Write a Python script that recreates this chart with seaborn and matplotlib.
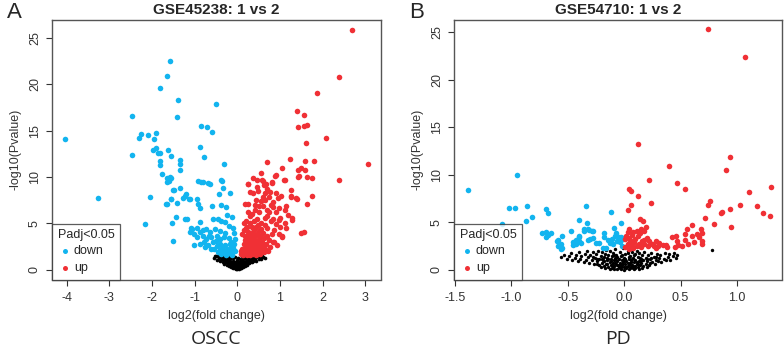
import numpy as np
import pandas as pd
import matplotlib
matplotlib.use("Agg")
import matplotlib.pyplot as plt
import seaborn as sns

# ---------------- dados (log2FC, -log10 P) ----------------
down_a = [(-4.03,14.16),(-3.26,7.72),(-2.46,16.6),(-2.47,12.36),(-2.31,14.2),(-2.25,14.7),(-2.16,4.92),(-2.09,14.5),(-2.05,7.83),
          (-1.98,12.97),(-1.95,14.08),(-1.91,14.8),(-1.91,13.15),(-1.86,12.65),(-1.82,12.65),(-1.82,19.58),(-1.82,11.75),(-1.80,11.35),(-1.77,10.3),
          (-1.67,7.08),(-1.65,9.88),(-1.64,20.95),(-1.64,9.5),(-1.64,7.1),(-1.62,12.9),(-1.60,9.56),(-1.57,22.56),(-1.57,10.02),(-1.56,7.62),
          (-1.55,9.9),(-1.55,7.6),(-1.54,12.25),(-1.52,5.07),(-1.51,8.62),(-1.50,3.13),(-1.49,8.6),(-1.44,5.71),
          (-1.41,16.45),(-1.40,7.2),(-1.39,18.32),(-1.35,11.8),(-1.35,8.87),(-1.33,11.4),(-1.33,10.74),(-1.27,7.72),(-1.22,7.98),(-1.22,5.46),
          (-1.19,8.15),(-1.17,5.53),(-1.14,7.6),(-1.10,7.6),(-1.11,4.10),(-1.09,4.56),(-1.05,4.38),(-1.01,3.84),(-1.01,2.73),
          (-0.95,7.69),(-0.95,4.56),(-0.95,3.49),(-0.92,9.59),(-0.91,7.08),(-0.88,13.2),(-0.88,5.21),(-0.88,4.13),(-0.88,2.84),(-0.87,6.72),
          (-0.85,15.5),(-0.84,9.45),(-0.81,4.28),(-0.81,3.66),(-0.80,9.52),(-0.78,12.2),(-0.78,2.95),(-0.75,2.5),(-0.72,4.38),(-0.72,3.31),
          (-0.71,15.4),(-0.68,9.34),(-0.68,2.66),(-0.65,3.7),(-0.64,4.13),(-0.63,9.23),(-0.62,2.3),(-0.61,3.49),(-0.60,14.87),(-0.59,6.9),
          (-0.57,5.46),(-0.57,2.95),(-0.54,2.23),(-0.52,4.38),(-0.50,3.1),(-0.49,17.86),(-0.48,3.66),(-0.48,2.59),(-0.45,1.9),(-0.44,5.5),
          (-0.43,8.15),(-0.41,4.20),(-0.41,3.31),(-0.41,2.12),(-0.40,2.77),(-0.39,5.25),(-0.37,9.66),(-0.37,7.0),(-0.37,1.69),(-0.35,9.6),
          (-0.35,2.4),(-0.34,8.8),(-0.32,3.49),(-0.31,11.36),(-0.30,2.05),(-0.29,4.02),(-0.28,2.66),(-0.28,5.2),(-0.26,6.83),(-0.26,1.62),
          (-0.25,2.3),(-0.23,5.96),(-0.22,1.9),(-0.20,3.41),(-0.20,4.7),(-0.18,8.26),(-0.18,2.84),(-0.18,2.12),(-0.15,2.6),(-0.15,3.0),
          (-0.14,1.76),(-0.13,5.75),(-0.12,1.55),(-0.10,2.41),(-0.10,4.5),(-0.08,3.92),(-0.08,2.8),(-0.06,2.05),(-0.05,3.3)]

up_a = [(3.06,11.42),(2.70,25.86),(2.38,20.8),(2.38,9.70),(2.09,14.2),(1.86,19.04),(1.80,11.79),(1.76,9.95),(1.76,7.98),(1.64,10.0),
        (1.64,7.08),(1.62,13.7),(1.59,11.79),(1.59,10.74),(1.57,16.67),(1.57,15.5),(1.57,4.1),(1.64,15.67),(1.50,3.92),(1.49,10.96),
        (1.45,10.1),(1.43,10.02),(1.42,15.45),(1.42,10.8),(1.40,17.13),(1.40,7.62),(1.38,7.7),(1.28,5.39),(1.28,5.6),(1.27,7.90),
        (1.26,7.94),(1.23,11.93),(1.18,5.93),(1.14,4.5),(1.12,9.67),(1.12,6.5),(1.12,5.1),(1.10,9.66),(1.06,11.03),(1.06,3.6),
        (1.06,3.49),(1.01,4.65),(0.97,6.7),(0.97,5.35),(0.97,3.9),(0.95,7.7),(0.94,2.66),(0.91,10.2),(0.91,6.25),(0.90,8.3),
        (0.89,10.13),(0.87,4.3),(0.83,2.95),(0.81,9.48),(0.81,9.41),(0.80,7.0),(0.79,5.3),(0.75,7.9),(0.71,4.5),(0.69,11.6),
        (0.69,6.5),(0.67,9.23),(0.64,8.3),(0.64,5.6),(0.63,9.1),(0.61,6.85),(0.60,9.59),(0.60,7.87),(0.60,4.0),(0.58,9.74),
        (0.52,6.25),(0.49,8.45),(0.48,4.85),(0.47,5.5),(0.46,8.94),(0.42,7.0),(0.41,6.5),(0.36,9.95),(0.36,4.5),(0.30,8.4),
        (0.30,5.8),(0.26,9.31),(0.25,9.23),(0.25,7.15),(0.22,4.65),(0.21,4.56),(0.19,7.08),(0.17,5.10),
        (0.08,2.0),(0.10,1.7),(0.12,2.3),(0.14,1.6),(0.15,2.8),(0.17,2.1),(0.18,3.2),(0.20,1.8),(0.20,2.5),(0.22,3.6),
        (0.23,1.6),(0.24,2.2),(0.25,2.9),(0.26,4.1),(0.27,1.9),(0.28,2.6),(0.29,3.3),(0.30,1.6),(0.31,2.2),(0.32,3.0),
        (0.33,3.8),(0.34,2.0),(0.35,2.7),(0.36,1.7),(0.37,3.4),(0.38,2.3),(0.39,4.3),(0.40,1.9),(0.40,2.9),(0.41,3.6),
        (0.42,2.4),(0.43,1.6),(0.44,3.1),(0.45,2.1),(0.46,2.7),(0.47,3.9),(0.48,1.8),(0.49,2.4),(0.50,3.3),(0.51,2.0),
        (0.52,2.9),(0.53,1.7),(0.54,3.6),(0.55,2.5),(0.56,4.4),(0.57,2.1),(0.58,3.0),(0.60,2.6),(0.62,1.9),(0.63,3.4),
        (0.65,2.3),(0.68,2.8),(0.70,3.7),(0.72,2.0),(0.74,3.2),(0.78,2.5),(0.82,3.9),(0.86,3.0),
        (0.12,3.9),(0.15,4.3),(0.18,3.6),(0.22,3.0),(0.26,3.4),(0.30,4.0),(0.34,4.6),(0.38,3.9),(0.44,4.6),(0.50,4.2),
        (0.30,5.1),(0.40,5.3),(0.55,5.0),(0.65,4.8),(0.70,5.8),(0.85,5.5),(0.90,4.9),(0.75,6.2),(0.50,6.9),(0.35,6.0),
        (0.45,7.5),(0.55,7.4),(0.65,7.5),(0.85,6.8),(1.00,5.6),(0.36,8.3),(0.70,8.7),(0.78,8.4),(0.55,10.4),(0.47,9.7),
        (0.85,7.3),(1.02,8.0),(1.15,6.9),(1.25,8.6),(0.25,6.2),(0.20,5.3)]

ns_a = [(-0.55,1.3),(-0.5,1.45),(-0.47,1.1),(-0.45,1.5),(-0.42,1.25),(-0.4,0.95),(-0.38,1.4),(-0.36,1.15),(-0.34,0.8),(-0.33,1.35),
        (-0.31,1.0),(-0.3,0.6),(-0.28,1.2),(-0.27,0.85),(-0.26,1.45),(-0.25,0.5),(-0.24,1.05),(-0.22,0.7),(-0.21,1.3),(-0.2,0.4),
        (-0.19,0.9),(-0.18,1.5),(-0.17,0.6),(-0.16,1.15),(-0.15,0.3),(-0.14,0.8),(-0.13,1.35),(-0.12,0.5),(-0.11,1.0),(-0.1,0.2),
        (-0.1,0.7),(-0.09,1.25),(-0.08,0.4),(-0.07,0.9),(-0.06,0.15),(-0.06,0.6),(-0.05,1.4),(-0.04,0.3),(-0.03,0.8),(-0.02,0.1),
        (-0.02,0.5),(-0.01,1.1),(0.0,0.05),(0.0,0.35),(0.01,0.7),(0.02,0.2),(0.02,1.3),(0.03,0.5),(0.04,0.9),(0.05,0.1),
        (0.05,0.4),(0.06,1.2),(0.07,0.65),(0.08,0.25),(0.09,1.0),(0.1,0.45),(0.11,1.45),(0.12,0.8),(0.13,0.3),(0.14,1.15),
        (0.15,0.6),(0.16,1.4),(0.17,0.9),(0.18,0.4),(0.19,1.25),(0.2,0.7),(0.21,1.5),(0.22,1.0),(0.23,0.55),(0.25,1.3),
        (0.26,0.85),(0.27,1.45),(0.28,0.7),(0.3,1.15),(0.31,0.9),(0.32,1.4),(0.34,1.05),(0.35,0.8),(0.36,1.3),(0.38,1.0),
        (0.39,1.5),(0.41,1.2),(0.43,1.35),(0.45,1.0),(0.47,1.45),(0.5,1.2),(0.53,1.4),(0.56,1.15),(0.6,1.35),(0.65,1.25),
        (-0.08,0.55),(-0.04,0.65),(0.0,0.45),(0.03,0.3),(0.06,0.55),(-0.12,0.3),(0.1,0.2),(-0.05,0.25),(0.08,0.75),(-0.15,0.55),
        (0.13,0.55),(-0.01,0.2),(0.04,0.15),(-0.03,0.4),(0.12,0.95),(-0.18,0.75),(0.16,0.8),(-0.22,1.0),(0.2,1.0),(-0.26,0.95),
        (0.24,1.1),(0.28,1.0),(0.33,1.2),(-0.3,1.3),(-0.35,1.45),(0.37,1.4),(-0.43,1.4),(0.44,1.5),(0.58,1.5),(-0.52,1.5)]

down_b = [(-1.39,8.42),(-0.95,10.0),(-1.02,6.49),(-0.97,6.56),(-0.86,6.74),(-0.82,5.6),(-0.87,5.15),(-1.08,4.83),(-0.69,6.38),(-0.68,6.03),
          (-0.34,6.77),(-0.73,3.85),(-0.69,4.0),(-0.68,3.67),(-0.65,3.85),(-0.69,3.42),(-0.59,3.2),(-0.55,3.6),(-0.55,2.29),(-0.47,4.09),
          (-0.40,5.25),(-0.33,4.97),(-0.36,4.3),(-0.31,4.2),(-0.28,4.05),(-0.43,3.2),(-0.40,3.5),(-0.40,3.1),(-0.45,2.66),(-0.38,2.8),
          (-0.30,3.3),(-0.22,2.79),(-0.18,3.91),(-0.18,3.42),(-0.12,6.1),(-0.09,4.38),(-0.07,3.85),(-0.05,3.5),(-0.14,3.17),
          (-0.60,3.07),(-0.56,2.7),(-0.59,2.55),(-0.56,2.2),(-0.45,2.9),(-0.43,2.7),(-0.41,3.07),(-0.40,3.6),(-0.36,4.12),(-0.32,4.3),
          (-0.29,4.12),(-0.32,3.2),(-0.28,3.4),(-0.25,2.8),(-0.19,2.3),(-0.16,2.3),(-0.13,2.8),(-0.08,3.6),(-0.03,4.9),(-0.03,3.5),
          (-0.01,3.3),(-0.02,2.55),(-0.10,2.7),(-0.06,3.1),(-0.04,2.9),(-0.11,3.3)]

up_b = [(0.74,25.37),(1.07,22.45),(0.12,13.29),(0.40,10.96),(0.94,11.84),(0.90,10.54),(0.22,9.48),(0.47,9.2),(0.54,8.57),(0.04,8.55),
        (0.06,8.3),(0.12,7.8),(0.24,7.0),(0.06,6.8),(0.035,6.3),(1.30,8.7),(1.11,8.25),(1.18,6.73),(1.23,6.03),(1.29,5.68),
        (1.03,6.84),(0.94,6.42),(0.95,4.55),(0.86,5.96),(0.87,6.1),(0.76,7.3),(0.74,6.8),(0.72,5.43),(0.80,4.83),(0.60,4.72),
        (0.56,4.3),(0.68,4.27),(0.69,3.9),(0.54,3.8),(0.60,3.6),(0.65,3.8),(0.66,3.5),(0.69,3.0),(0.69,2.75),(0.62,2.94),
        (0.57,2.7),(0.54,3.2),(0.46,3.6),(0.48,2.6),(0.45,2.4),(0.42,3.5),(0.37,2.6),(0.38,2.4),(0.31,2.8),(0.28,3.0),
        (0.30,2.5),(0.25,2.7),(0.22,3.0),(0.18,2.7),(0.18,3.2),(0.16,3.0),(0.14,5.35),(0.17,5.17),(0.19,4.5),(0.15,4.3),
        (0.11,4.14),(0.18,4.14),(0.04,4.3),(0.03,3.95),(0.07,3.7),(0.12,3.6),(0.04,3.4),(0.01,3.25),(0.06,3.1),(0.09,2.9),
        (0.13,2.75),(0.03,2.75),(0.01,2.4),(0.07,2.55),(0.11,2.55),(0.15,2.45),(0.04,2.2),(0.08,2.3),(0.21,2.5),(0.26,2.55),
        (0.28,2.3),(0.34,2.58),(0.51,2.5),(0.47,3.0),(0.02,3.6),(0.05,2.9),(0.10,3.3),(0.14,3.9),(0.20,3.4),(0.08,4.0)]

ns_b = [(-0.56,1.35),(-0.53,1.6),(-0.51,1.2),(-0.49,1.45),(-0.47,1.75),(-0.46,1.05),(-0.44,1.3),(-0.43,1.6),(-0.41,0.95),(-0.40,1.85),
        (-0.39,1.2),(-0.38,1.5),(-0.36,0.85),(-0.35,1.7),(-0.34,1.1),(-0.33,2.0),(-0.32,1.35),(-0.31,0.75),(-0.30,1.6),(-0.29,1.0),
        (-0.28,1.9),(-0.27,0.6),(-0.26,1.3),(-0.25,1.65),(-0.24,0.9),(-0.23,2.05),(-0.22,0.5),(-0.22,1.2),(-0.21,1.5),(-0.20,0.75),
        (-0.20,1.85),(-0.19,1.05),(-0.18,0.4),(-0.18,1.4),(-0.17,1.7),(-0.16,0.65),(-0.16,2.1),(-0.15,1.0),(-0.15,1.3),(-0.14,0.3),
        (-0.14,1.6),(-0.13,0.85),(-0.13,1.95),(-0.12,0.5),(-0.12,1.15),(-0.11,1.45),(-0.11,0.2),(-0.10,0.7),(-0.10,1.8),(-0.09,1.0),
        (-0.09,0.4),(-0.08,1.3),(-0.08,2.2),(-0.07,0.6),(-0.07,1.6),(-0.06,0.15),(-0.06,0.9),(-0.05,1.2),(-0.05,0.35),(-0.04,1.9),
        (-0.04,0.7),(-0.03,1.45),(-0.03,0.1),(-0.02,0.5),(-0.02,1.05),(-0.01,2.3),(-0.01,0.8),(0.0,0.05),(0.0,0.3),(0.0,1.3),
        (0.01,0.6),(0.01,1.7),(0.02,0.2),(0.02,0.95),(0.03,0.45),(0.03,2.0),(0.04,1.2),(0.04,0.1),(0.05,0.7),(0.05,1.5),
        (0.06,0.3),(0.06,1.0),(0.07,1.85),(0.07,0.55),(0.08,1.3),(0.08,0.2),(0.09,0.85),(0.09,1.6),(0.10,0.4),(0.10,1.1),
        (0.11,2.05),(0.11,0.65),(0.12,1.4),(0.12,0.3),(0.13,0.9),(0.13,1.75),(0.14,0.5),(0.15,1.2),(0.15,0.75),(0.16,1.55),
        (0.17,0.4),(0.17,1.0),(0.18,1.9),(0.19,0.65),(0.19,1.3),(0.20,0.9),(0.21,1.6),(0.22,0.55),(0.23,1.15),(0.24,1.8),
        (0.25,0.8),(0.26,1.4),(0.27,0.65),(0.28,1.05),(0.29,1.7),(0.30,0.9),(0.31,1.3),(0.32,1.55),(0.33,0.85),(0.35,1.2),
        (0.36,1.75),(0.37,1.0),(0.39,1.4),(0.40,1.65),(0.41,1.1),(0.43,1.45),(0.44,1.8),(0.46,1.3),(0.47,1.6),(0.78,2.1),
        (-0.06,0.5),(-0.03,0.3),(0.02,0.35),(0.04,0.55),(-0.08,0.75),(0.06,0.8),(-0.02,0.65),(0.0,0.9),(0.03,0.75),(-0.05,0.55),
        (0.08,0.45),(-0.1,0.3),(0.1,0.25),(-0.04,0.2),(0.05,0.2),(-0.12,0.95),(0.12,0.6),(-0.15,0.6),(0.14,0.9),(-0.18,0.9),
        (0.16,1.1),(-0.2,1.2),(0.2,1.2),(-0.24,1.2),(0.24,1.3),(-0.28,1.4),(0.28,1.4),(-0.01,1.0),(0.01,1.15),(-0.07,1.1),(0.07,1.15),
        (-0.13,0.15),(-0.09,0.1),(0.09,0.1),(0.13,0.15),(-0.17,0.25),(0.16,0.25),(-0.21,0.35),(0.2,0.35),(-0.24,0.6),(0.23,0.7),
        (-0.11,0.55),(0.11,0.85),(-0.06,1.35),(0.04,1.4),(-0.14,1.15),(0.14,1.3),(-0.02,1.6),(0.03,1.8),(-0.09,1.55),(0.1,1.7)]

titulos = ["GSE45238: 1 vs 2", "GSE54710: 1 vs 2"]
letras = ["A", "B"]
tecidos = ["OSCC", "PD"]
xticks_a = [-4, -3, -2, -1, 0, 1, 2, 3]
xticks_b = [-1.5, -1.0, -0.5, 0.0, 0.5, 1.0]
yticks = [0, 5, 10, 15, 20, 25]

AZUL = "#12b4ef"
VERMELHO = "#f03035"

sns.set_style("ticks")
plt.rcParams['font.family'] = ['Liberation Sans', 'DejaVu Sans']

def para_df(pares):
    return pd.DataFrame(pares, columns=["lfc", "p"])

fig = plt.figure(figsize=(7.84, 3.48), dpi=100)
W, H = 784, 348
caixas = [(52, 381), (454, 782)]
ax_a = fig.add_axes([52 / W, 1 - 279.5 / H, (381 - 52) / W, (279.5 - 20) / H])
ax_b = fig.add_axes([454 / W, 1 - 279.5 / H, (782 - 454) / W, (279.5 - 20) / H])

painel = [
    (ax_a, down_a, up_a, ns_a, xticks_a, (-4.34, 3.37), (-1.04, 26.94), 7, "{:.0f}"),
    (ax_b, down_b, up_b, ns_b, xticks_b, (-1.51, 1.40), (-1.0, 26.3), 6, "{:.1f}"),
]

for i, (ax, dn, up, ns, xt, xl, yl, s_ns, fmt) in enumerate(painel):
    sns.scatterplot(data=para_df(ns), x="lfc", y="p", ax=ax, color="black", s=s_ns,
                    linewidth=0, legend=False)
    sns.scatterplot(data=para_df(dn), x="lfc", y="p", ax=ax, color=AZUL, s=16,
                    linewidth=0, label="down")
    sns.scatterplot(data=para_df(up), x="lfc", y="p", ax=ax, color=VERMELHO, s=16,
                    linewidth=0, label="up")
    ax.set_xlim(*xl)
    ax.set_ylim(*yl)
    ax.set_xticks(xt)
    ax.set_xticklabels([fmt.format(v) for v in xt])
    ax.set_yticks(yticks)
    ax.set_yticklabels([str(v) for v in yticks], rotation=90, va="center")
    ax.tick_params(axis="both", length=4, width=0.8, labelsize=9, color="#333333", labelcolor="#333333")
    ax.tick_params(axis="x", pad=5)
    ax.tick_params(axis="y", pad=4)
    for sp in ax.spines.values():
        sp.set_visible(True)
        sp.set_color("#555555")
        sp.set_linewidth(1.0)
    ax.set_xlabel("log2(fold change)", fontsize=9, color="#333333", labelpad=4)
    ax.set_ylabel("-log10(Pvalue)", fontsize=9, color="#333333", labelpad=5)
    ax.set_title(titulos[i], fontsize=11, fontweight="bold", pad=4)
    leg = ax.legend(title="Padj<0.05", loc="lower left", borderaxespad=0, fancybox=False,
                    fontsize=9, title_fontsize=9, handletextpad=0.2, handlelength=1.1,
                    borderpad=0.45, labelspacing=0.35, markerscale=0.9, alignment="left")
    leg.get_frame().set_edgecolor("#333333")
    leg.get_frame().set_linewidth(0.9)
    # letra do painel e nome do tecido
    x0, x1 = caixas[i]
    fig.text((x0 - 45) / W, 1 - 12 / H, letras[i], fontsize=16, va="center", ha="left")
    fig.text(((x0 + x1) / 2) / W, 1 - 339 / H, tecidos[i], fontsize=14, va="center", ha="center",
             family=["Open Sans", "DejaVu Sans"])

fig.savefig("out.png", dpi=100)
